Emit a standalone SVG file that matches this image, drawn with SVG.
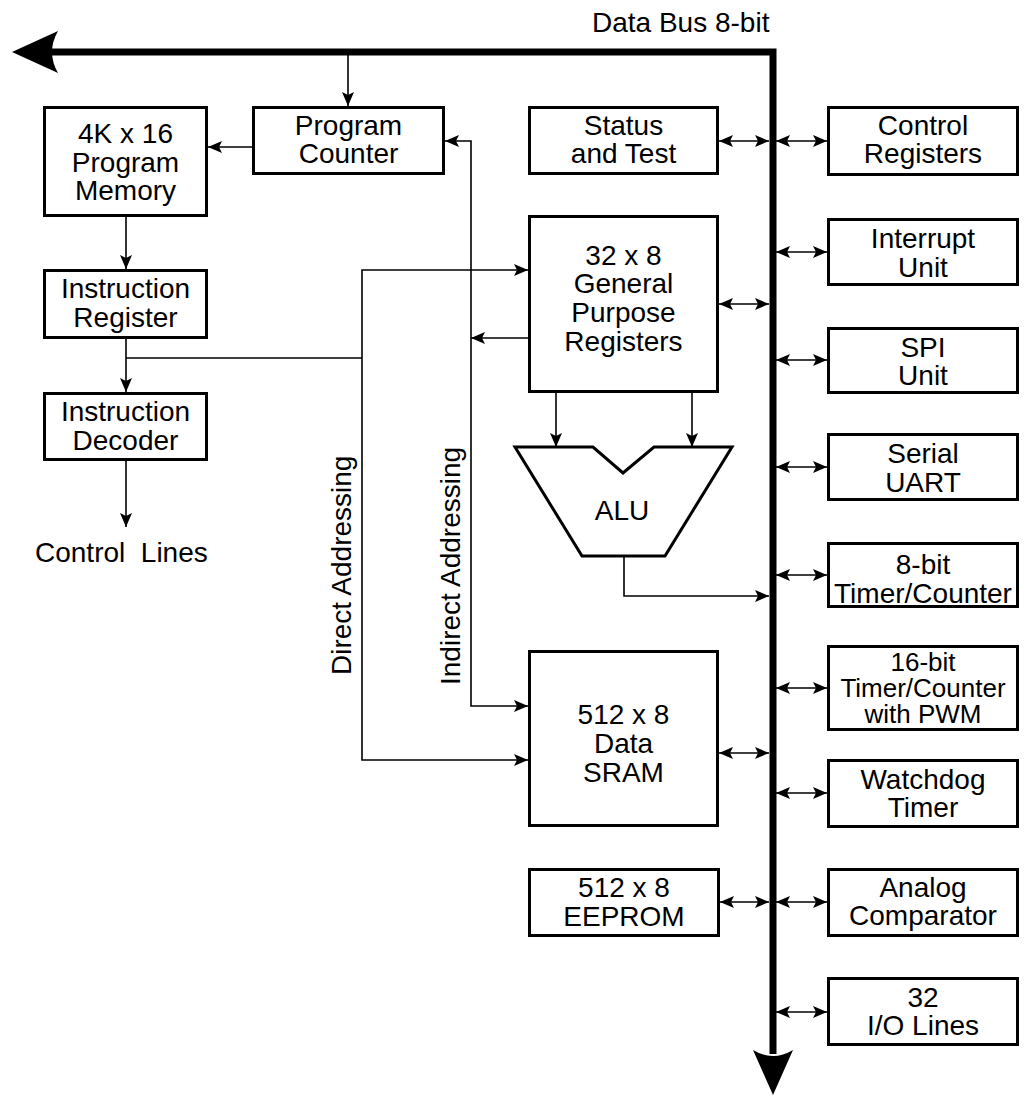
<svg xmlns="http://www.w3.org/2000/svg" width="1029" height="1097" viewBox="0 0 1029 1097">
<style>
  .box { fill: #fff; stroke: #000; stroke-width: 3; }
  .t { font-family: "Liberation Sans", Arial, Helvetica, sans-serif; font-size: 28px; fill: #000; text-anchor: middle; }
  .t26 { font-size: 26px; }
  .ts { font-family: "Liberation Sans", Arial, Helvetica, sans-serif; font-size: 28px; fill: #000; }
  .ln { fill: none; stroke: #000; stroke-width: 1.6; }
  .arr { marker-end: url(#ah); }
  .dbl { marker-start: url(#ah); marker-end: url(#ah); }
  .bus { fill: none; stroke: #000; stroke-width: 7; stroke-linejoin: miter; }
</style>
<defs>
  <marker id="ah" viewBox="0 -6 14 12" refX="14" refY="0" markerWidth="14" markerHeight="12" markerUnits="userSpaceOnUse" orient="auto-start-reverse">
    <path d="M0,-6 L14,0 L0,6 L3,0 Z" fill="#000"/>
  </marker>
</defs>
<rect width="1029" height="1097" fill="#fff"/>

<g id="databus">
  <path class="bus" d="M52,52 H773 V1054"/>
  <path d="M12,52 L58,31 Q46,52 58,73 Z" fill="#000"/>
  <path d="M773,1095 L753,1050 Q773,1062 793,1050 Z" fill="#000"/>
  <text class="ts" x="592" y="32">Data Bus 8-bit</text>
</g>

<g id="connectors">
  <path class="ln arr" d="M348,55 V106"/>
  <path class="ln arr" d="M252,147 H208"/>
  <path class="ln arr" d="M126,217 V269"/>
  <path class="ln arr" d="M126,339 V392"/>
  <path class="ln arr" d="M126,461 V527"/>
  <path class="ln" d="M126,358 H362"/>
  <path class="ln dbl" d="M528,270 H362 V760 H528"/>
  <path class="ln dbl" d="M445,141 H471 V706 H528"/>
  <path class="ln arr" d="M528,338 H471"/>
  <path class="ln arr" d="M556,393 V447"/>
  <path class="ln arr" d="M692,393 V447"/>
  <path class="ln arr" d="M624,556 V596 H769"/>
  <path class="ln dbl" d="M719,141 H769"/>
  <path class="ln dbl" d="M719,304 H769"/>
  <path class="ln dbl" d="M719,753 H769"/>
  <path class="ln dbl" d="M720,902 H769"/>
  <path class="ln dbl" d="M776,141 H827"/>
  <path class="ln dbl" d="M776,252 H827"/>
  <path class="ln dbl" d="M776,360 H827"/>
  <path class="ln dbl" d="M776,467 H827"/>
  <path class="ln dbl" d="M776,575 H827"/>
  <path class="ln dbl" d="M776,688 H827"/>
  <path class="ln dbl" d="M776,793 H827"/>
  <path class="ln dbl" d="M776,902 H827"/>
  <path class="ln dbl" d="M776,1012 H827"/>
</g>

<g id="program-memory">
  <rect class="box" x="44.5" y="107.5" width="162" height="108"/>
  <text class="t" x="125.5" y="143">4K x 16</text>
  <text class="t" x="125.5" y="172">Program</text>
  <text class="t" x="125.5" y="200">Memory</text>
</g>
<g id="program-counter">
  <rect class="box" x="253.5" y="107.5" width="190" height="66"/>
  <text class="t" x="348.5" y="135">Program</text>
  <text class="t" x="348.5" y="163">Counter</text>
</g>
<g id="status-test">
  <rect class="box" x="529.5" y="107.5" width="188" height="66"/>
  <text class="t" x="623.5" y="135">Status</text>
  <text class="t" x="623.5" y="163">and Test</text>
</g>
<g id="instruction-register">
  <rect class="box" x="44.5" y="270.5" width="162" height="67"/>
  <text class="t" x="125.5" y="298">Instruction</text>
  <text class="t" x="125.5" y="327">Register</text>
</g>
<g id="instruction-decoder">
  <rect class="box" x="44.5" y="393.5" width="162" height="66"/>
  <text class="t" x="125.5" y="421">Instruction</text>
  <text class="t" x="125.5" y="450">Decoder</text>
</g>
<g id="control-lines">
  <text class="ts" x="35" y="562" xml:space="preserve">Control  Lines</text>
</g>
<g id="gpr">
  <rect class="box" x="529.5" y="216.5" width="188" height="175"/>
  <text class="t" x="623.5" y="265">32 x 8</text>
  <text class="t" x="623.5" y="293">General</text>
  <text class="t" x="623.5" y="322">Purpose</text>
  <text class="t" x="623.5" y="351">Registers</text>
</g>
<g id="alu">
  <path class="box" d="M515,447 H593 L623,473 L654,447 H732 L665,556 H582 Z"/>
  <text class="t" x="622" y="520">ALU</text>
</g>
<g id="sram">
  <rect class="box" x="529.5" y="651.5" width="188" height="174"/>
  <text class="t" x="623.5" y="724">512 x 8</text>
  <text class="t" x="623.5" y="753">Data</text>
  <text class="t" x="623.5" y="782">SRAM</text>
</g>
<g id="eeprom">
  <rect class="box" x="529.5" y="869.5" width="189" height="66"/>
  <text class="t" x="624" y="897">512 x 8</text>
  <text class="t" x="624" y="926">EEPROM</text>
</g>
<g id="direct-addressing">
  <text class="ts" transform="translate(351,675) rotate(-90)">Direct Addressing</text>
</g>
<g id="indirect-addressing">
  <text class="ts" transform="translate(460,685) rotate(-90)">Indirect Addressing</text>
</g>
<g id="control-registers">
  <rect class="box" x="828.5" y="107.5" width="189" height="67"/>
  <text class="t" x="923" y="135">Control</text>
  <text class="t" x="923" y="163">Registers</text>
</g>
<g id="interrupt-unit">
  <rect class="box" x="828.5" y="219.5" width="189" height="65"/>
  <text class="t" x="923" y="248">Interrupt</text>
  <text class="t" x="923" y="277">Unit</text>
</g>
<g id="spi-unit">
  <rect class="box" x="828.5" y="328.5" width="189" height="64"/>
  <text class="t" x="923" y="357">SPI</text>
  <text class="t" x="923" y="385">Unit</text>
</g>
<g id="serial-uart">
  <rect class="box" x="828.5" y="434.5" width="189" height="65"/>
  <text class="t" x="923" y="463">Serial</text>
  <text class="t" x="923" y="492">UART</text>
</g>
<g id="timer8">
  <rect class="box" x="828.5" y="543.5" width="189" height="63"/>
  <text class="t" x="923" y="574">8-bit</text>
  <text class="t" x="923" y="603">Timer/Counter</text>
</g>
<g id="timer16">
  <rect class="box" x="828.5" y="646.5" width="189" height="83"/>
  <text class="t t26" x="923" y="671">16-bit</text>
  <text class="t t26" x="923" y="697">Timer/Counter</text>
  <text class="t t26" x="923" y="723">with PWM</text>
</g>
<g id="watchdog">
  <rect class="box" x="828.5" y="760.5" width="189" height="66"/>
  <text class="t" x="923" y="789">Watchdog</text>
  <text class="t" x="923" y="817">Timer</text>
</g>
<g id="analog-comparator">
  <rect class="box" x="828.5" y="869.5" width="189" height="66"/>
  <text class="t" x="923" y="897">Analog</text>
  <text class="t" x="923" y="925">Comparator</text>
</g>
<g id="io-lines">
  <rect class="box" x="828.5" y="978.5" width="189" height="66"/>
  <text class="t" x="923" y="1007">32</text>
  <text class="t" x="923" y="1035">I/O Lines</text>
</g>
</svg>
